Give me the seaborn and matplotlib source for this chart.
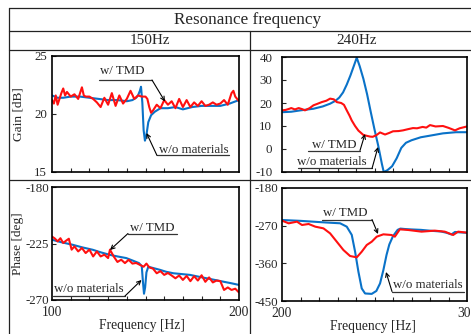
import matplotlib
matplotlib.use("Agg")
import matplotlib.pyplot as plt
import seaborn as sns
from matplotlib.lines import Line2D
from matplotlib.text import Annotation
from matplotlib.ticker import FixedLocator

sns.set_style("ticks")
plt.rcParams['font.family'] = ['Liberation Serif', 'DejaVu Serif']
plt.rcParams['axes.unicode_minus'] = False

# ---------------- data ----------------
# 150 Hz, gain [dB]
g150_wo_f = [100, 103, 106, 110, 115, 120, 125, 130, 135, 140, 143, 145, 146, 147, 147.6, 148.3, 149, 149.7,
             150.5, 151.5, 153, 155, 158, 162, 166, 170, 175, 180, 185, 190, 195, 200]
g150_wo_v = [21.6, 21.4, 21.4, 21.5, 21.5, 21.4, 21.3, 21.2, 21.2, 21.1, 21.2, 21.4, 21.6, 22.0, 22.35, 21.0, 18.6, 17.7,
             18.2, 19.3, 19.9, 20.2, 20.5, 20.5, 20.6, 20.4, 20.6, 20.7, 20.7, 20.7, 20.9, 21.2]
g150_tmd_f = [100, 101, 102, 103, 104, 105, 106, 107, 108, 110, 112, 114, 116, 117, 118, 120, 122, 124, 126, 128,
              130, 132, 134, 136, 138, 140, 142, 144, 146, 148, 150, 151, 152, 153, 154, 156, 158, 160, 162, 164,
              166, 168, 170, 172, 174, 176, 178, 180, 182, 184, 186, 188, 190, 192, 194, 196, 197, 198, 200]
g150_tmd_v = [21.2, 20.9, 21.6, 20.8, 21.3, 21.8, 22.2, 21.6, 21.9, 21.5, 21.7, 21.3, 22.3, 21.6, 21.5, 21.5, 21.3, 21.0,
              20.6, 21.4, 20.8, 21.8, 20.7, 21.6, 20.9, 21.3, 22.0, 21.3, 21.6, 21.5, 21.5, 21.3, 20.6, 20.1, 20.3,
              20.8, 20.5, 21.2, 20.8, 21.1, 20.5, 21.3, 20.6, 21.2, 20.6, 21.0, 20.7, 21.1, 20.7, 20.8, 21.0, 20.8,
              20.9, 21.2, 20.8, 21.8, 22.0, 21.5, 21.1]

# 240 Hz, gain [dB]
g240_wo_f = [200, 205, 210, 217, 222, 226, 229, 231, 233, 235, 237, 239, 240.4, 242, 244, 246, 248, 250, 252, 254,
             255, 257, 259.5, 262, 264.5, 267, 270, 275, 280, 287, 294, 300]
g240_wo_v = [16.0, 16.2, 16.8, 17.5, 18.5, 19.7, 21.0, 22.4, 24.6, 28.0, 32.0, 36.5, 39.7, 36.0, 30.5, 23.8, 16.0, 8.5,
             1.5, -6.5, -10.0, -9.2, -7.5, -4.0, 0.5, 2.7, 3.8, 5.1, 5.8, 6.8, 7.3, 7.3]
g240_tmd_f = [200, 202, 204, 205, 207, 209, 211, 212.4, 215, 217, 219, 221.5, 224, 226, 228, 229.6, 232, 233.5, 235,
              236.5, 237.7, 239.5, 241.3, 243, 244, 246, 247.6, 249, 251, 253, 255.7, 258, 260, 263, 265.4, 268,
              270.8, 273, 276, 278, 280, 283, 287, 290, 293.5, 296, 300]
g240_tmd_v = [16.8, 17.0, 17.5, 17.8, 17.2, 17.8, 17.3, 16.8, 17.8, 19.0, 19.6, 20.4, 21.0, 21.9, 21.6, 20.4, 20.0,
              19.2, 16.8, 14.5, 12.4, 10.0, 8.0, 6.8, 6.1, 5.7, 5.4, 5.3, 6.0, 7.2, 6.3, 7.0, 7.7, 7.8, 8.1, 8.6,
              9.1, 9.0, 9.6, 9.3, 10.4, 9.8, 10.0, 9.2, 8.1, 9.0, 9.8]

# 150 Hz, phase [deg]
p150_wo_f = [100, 105, 111, 116, 121.8, 126, 130.8, 135, 139.7, 143, 146.5, 148, 148.6, 149.2, 149.8, 150.5, 151.5,
             154, 157.8, 161, 164.9, 169, 173.8, 178, 182.7, 187, 191.6, 196, 200]
p150_wo_v = [-222, -224, -226, -228, -230, -232, -234, -235.3, -236.6, -238.5, -240.6, -243, -255, -265, -260, -248,
             -243.5, -244.5, -246, -247.5, -248.7, -249.3, -250, -251.3, -252.7, -254, -255.4, -256.7, -258]
p150_tmd_f = [100, 101.5, 103, 104.5, 106, 107.5, 109, 110.5, 112, 114, 116, 118, 120, 122, 124, 126, 128, 130, 131,
              133, 135, 137, 139, 141, 143, 145, 147, 149, 150.5, 152, 154, 156, 158, 160, 162, 164, 166, 168, 170,
              172, 174, 176, 178, 180, 182, 184, 186, 188, 190, 192, 194, 196, 198, 200]
p150_tmd_v = [-219.5, -221, -223.3, -220.8, -224.6, -222.8, -221.2, -229.9, -227.3, -231.3, -228.6, -232.6, -229.9,
              -235.3, -231.3, -235.3, -233.9, -236.6, -229.9, -235.3, -239.7, -237.9, -240.6, -238.0, -241.0,
              -240.5, -242.0, -243.5, -241.0, -244.0, -245.0, -248.7, -247.0, -250.0, -248.5, -250.5, -252.7,
              -250.5, -254.0, -250.8, -255.0, -251.0, -254.5, -250.3, -255.5, -252.0, -256.0, -254.5, -255.0,
              -262.0, -260.0, -262.0, -261.0, -264.0]

# 240 Hz, phase [deg]
p240_wo_f = [200, 210, 217, 224, 231.4, 235, 237.7, 239.5, 241.3, 243.1, 244.9, 248.5, 251, 253, 254.8, 256.5, 258,
             260, 262.5, 264, 266.4, 270, 275, 280, 286, 289, 291.6, 293.5, 296, 300]
p240_wo_v = [-256.5, -258.5, -260.5, -262.5, -264.3, -272.4, -292, -332, -380, -420, -432, -433, -426, -408, -376,
             -340, -315, -295, -280, -277, -278, -279, -280, -282, -284, -287, -291, -285, -286, -287]
p240_tmd_f = [200, 203.6, 208.1, 210.8, 214.4, 218, 222.4, 226, 229.6, 233.2, 236.8, 240.4, 243.1, 245.8, 248.5,
              251.2, 254.8, 259.2, 261, 263.7, 268.2, 275.4, 282.6, 288, 292.5, 295.2, 300]
p240_tmd_v = [-258, -264.4, -260.4, -268.4, -266, -272.4, -276.4, -288.4, -308.3, -328.2, -342.5, -345.7, -332.2,
              -316.2, -308.3, -296.3, -290.7, -292.3, -296.3, -278.8, -280.3, -284.3, -281.9, -284.3, -292.3,
              -284.3, -286.7]

title_text = "Resonance frequency"
col_titles = ["150Hz", "240Hz"]
label_tmd = "w/ TMD"
label_wo = "w/o materials"

# ---------------- figure ----------------
W, H = 471, 334
fig = plt.figure(figsize=(W / 100, H / 100), dpi=100)


def ax_rect(l, t, r, b):
    return [l / W, 1 - b / H, (r - l) / W, (b - t) / H]


def P(x, y):
    return (x / W, 1 - y / H)


BLUE = '#0a72c8'
RED = '#ff1010'
FS = 9.3

axes_specs = [
    dict(rect=ax_rect(52, 56, 239, 172), wo=(g150_wo_f, g150_wo_v), tmd=(g150_tmd_f, g150_tmd_v),
         xlim=(100, 200), ylim=(15, 25), yticks=[15, 20, 25], ylabel="Gain [dB]", xl=False, ypad=3.5),
    dict(rect=ax_rect(282, 57, 467, 172), wo=(g240_wo_f, g240_wo_v), tmd=(g240_tmd_f, g240_tmd_v),
         xlim=(200, 300), ylim=(-10, 40), yticks=[-10, 0, 10, 20, 30, 40], ylabel=None, xl=False, ypad=7),
    dict(rect=ax_rect(52, 187, 239, 300), wo=(p150_wo_f, p150_wo_v), tmd=(p150_tmd_f, p150_tmd_v),
         xlim=(100, 200), ylim=(-270, -180), yticks=[-270, -225, -180], ylabel="Phase [deg]", xl=True, ypad=2),
    dict(rect=ax_rect(282, 188, 467, 301), wo=(p240_wo_f, p240_wo_v), tmd=(p240_tmd_f, p240_tmd_v),
         xlim=(200, 300), ylim=(-450, -180), yticks=[-450, -360, -270, -180], ylabel=None, xl=True, ypad=3),
]

for i, s in enumerate(axes_specs):
    ax = fig.add_axes(s['rect'])
    sns.lineplot(x=s['wo'][0], y=s['wo'][1], ax=ax, color=BLUE, lw=1.5, legend=False)
    sns.lineplot(x=s['tmd'][0], y=s['tmd'][1], ax=ax, color=RED, lw=1.5, legend=False)
    ax.set_xlim(*s['xlim'])
    ax.set_ylim(*s['ylim'])
    for sp in ax.spines.values():
        sp.set_visible(True)
        sp.set_linewidth(1.2)
        sp.set_color('black')
    ax.set_yticks(s['yticks'])
    ax.tick_params(axis='y', direction='in', length=3, width=0.8, labelsize=FS, pad=s['ypad'], left=True)
    x0, x1 = s['xlim']
    ax.xaxis.set_minor_locator(FixedLocator(list(range(x0 + 10, x1, 10))))
    ax.tick_params(axis='x', which='minor', direction='in', length=3, width=0.8, bottom=True)
    if s['xl']:
        ax.set_xticks([x0, x1])
        ax.set_xticklabels([str(x0), str(x1)])
        ax.tick_params(axis='x', which='major', direction='in', length=0, labelsize=FS + 0.5, pad=4)
        ax.set_xlabel("Frequency [Hz]", fontsize=FS + 0.5)
        ax.xaxis.set_label_coords(0.48 if i == 2 else 0.49, -0.23)
        ax.xaxis.label.set_va('center')
    else:
        ax.set_xticks([])
        ax.set_xlabel("")
    if s['ylabel']:
        ax.set_ylabel(s['ylabel'], fontsize=FS + 0.3)
        ax.yaxis.set_label_coords(-0.18, 0.5)
        ax.yaxis.label.set_va('center')
    else:
        ax.set_ylabel("")
    ax.grid(False)

# ---------------- table frame ----------------
LC = '#222222'
LW = 0.9
for (xs, ys) in [((9, 471), (8, 8)), ((9, 9), (8, 334)), ((9, 471), (31, 31)), ((9, 471), (49.5, 49.5)),
                 ((250, 250), (31, 334)), ((9, 471), (180, 180))]:
    fig.add_artist(Line2D([xs[0] / W, xs[1] / W], [1 - ys[0] / H, 1 - ys[1] / H],
                          transform=fig.transFigure, color=LC, lw=LW))

fig.text(*P(247.5, 20), title_text, ha='center', va='center', fontsize=12.3)
fig.text(*P(149.5, 40.5), col_titles[0], ha='center', va='center', fontsize=11)
fig.text(*P(357, 40.5), col_titles[1], ha='center', va='center', fontsize=11)


# ---------------- annotations ----------------
def callout(text, tx, ty, ul_x0, ul_x1, ul_y, start, tip):
    fig.text(*P(tx, ty), text, ha='center', va='center', fontsize=FS)
    fig.add_artist(Line2D([ul_x0 / W, ul_x1 / W], [1 - ul_y / H, 1 - ul_y / H],
                          transform=fig.transFigure, color='#333333', lw=0.9))
    ann = Annotation('', xy=P(*tip), xytext=P(*start), xycoords='figure fraction',
                     textcoords='figure fraction',
                     arrowprops=dict(arrowstyle='->', lw=0.8, color='black', shrinkA=0, shrinkB=0,
                                     mutation_scale=7))
    fig.add_artist(ann)


callout(label_tmd, 122, 71, 99, 152, 80, (152, 80), (165, 101.5))
callout(label_wo, 194, 150, 157, 229, 155.5, (157, 155.5), (146.5, 133))
callout(label_tmd, 334, 145, 308, 360, 150.5, (360, 150.5), (365, 134))
callout(label_wo, 332, 162.5, 298, 372, 168.5, (372, 168.5), (378, 147))
callout(label_tmd, 152.5, 228, 128, 177, 233.5, (128, 233.5), (110, 250))
callout(label_wo, 89, 289, 53, 125, 296, (125, 296), (141.5, 280))
callout(label_tmd, 345.5, 213, 322, 372, 219.5, (372, 219.5), (378, 234))
callout(label_wo, 428, 285, 392, 464, 291.5, (392, 291.5), (386, 272))

fig.savefig("out.png", dpi=100)
